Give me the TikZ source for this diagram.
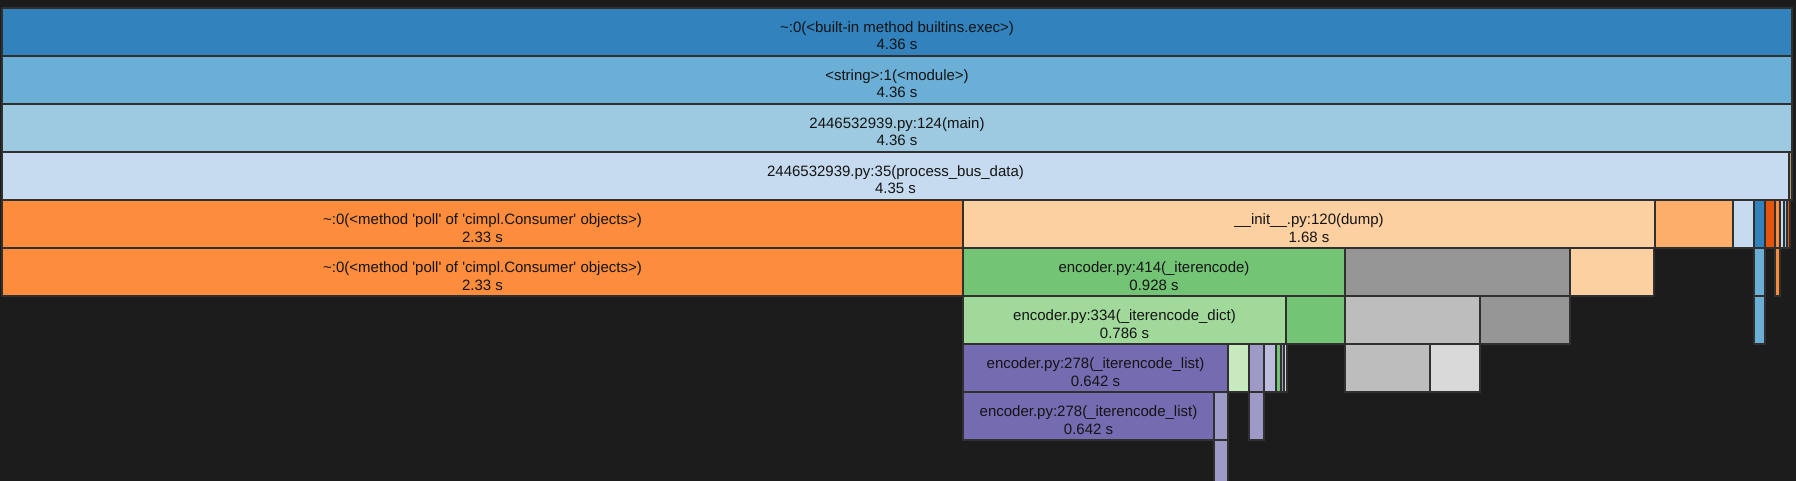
\documentclass[tikz,border=0pt]{standalone}
\usepackage{fontspec}
\setmainfont{Liberation Sans}
\usepackage{tikz}
\definecolor{bg}{HTML}{1C1C1C}
\definecolor{cellline}{HTML}{303030}
\definecolor{labeltext}{HTML}{141414}
\definecolor{blueA}{HTML}{3182BD}
\definecolor{blueB}{HTML}{6BAED6}
\definecolor{blueC}{HTML}{9ECAE1}
\definecolor{blueD}{HTML}{C6DBEF}
\definecolor{orangeA}{HTML}{E6550D}
\definecolor{orangeB}{HTML}{FD8D3C}
\definecolor{orangeC}{HTML}{FDAE6B}
\definecolor{orangeD}{HTML}{FDD0A2}
\definecolor{greenB}{HTML}{74C476}
\definecolor{greenC}{HTML}{A1D99B}
\definecolor{greenD}{HTML}{C7E9C0}
\definecolor{purpleA}{HTML}{756BB1}
\definecolor{purpleB}{HTML}{9E9AC8}
\definecolor{purpleC}{HTML}{BCBDDC}
\definecolor{grayB}{HTML}{969696}
\definecolor{grayC}{HTML}{BDBDBD}
\definecolor{grayD}{HTML}{D9D9D9}
\definecolor{tan}{HTML}{B89870}
\tikzset{cell/.style={shape=rectangle, draw=cellline, line width=1.2pt, inner sep=0pt, outer sep=0pt, anchor=north west, minimum height=48pt},
  lbl/.style={font=\fontsize{15}{18}\selectfont, text=labeltext, anchor=base, inner sep=0pt}}

\begin{document}
\begin{tikzpicture}[x=1pt, y=-1pt]
    \fill[bg] (0,0) rectangle (1796,481);
    \clip (0,0) rectangle (1796,481);

    % call stack, top down
    \node[cell, fill=blueA, minimum width=1790pt] (exec) at (2,8) {};
    \node[cell, fill=blueB, minimum width=1790pt] (module) at (2,56) {};
    \node[cell, fill=blueC, minimum width=1790pt] (main) at (2,104) {};
    \node[cell, fill=blueD, minimum width=1787pt] (busdata) at (2,152) {};
    \node[cell, fill=tan, minimum width=3pt] (busdata-s) at (1789,152) {};
    \node[cell, fill=orangeB, minimum width=961pt] (poll) at (2,200) {};
    \node[cell, fill=orangeD, minimum width=692pt] (dump) at (963,200) {};
    \node[cell, fill=orangeB, minimum width=961pt] (poll2) at (2,248) {};
    \node[cell, fill=greenB, minimum width=382pt] (iterenc) at (963,248) {};
    \node[cell, fill=greenC, minimum width=323pt] (encdict) at (963,296) {};
    \node[cell, fill=purpleA, minimum width=265pt] (enclist) at (963,344) {};
    \node[cell, fill=purpleA, minimum width=251pt] (enclist2) at (963,392) {};

    % small frames without text
    \foreach \x/\w/\c [count=\i] in {1655/78/orangeC, 1733/21/blueD, 1754/11/blueA, 1765/10/orangeA,
        1775/5/orangeB, 1780/4/blueD, 1784/3/blueC, 1787/3/orangeA}
      \node[cell, fill=\c, minimum width=\w pt] (r4-\i) at (\x,200) {};
    \foreach \x/\w/\c [count=\i] in {1345/225/grayB, 1570/84/orangeD, 1754/11/blueB, 1775/5/orangeB}
      \node[cell, fill=\c, minimum width=\w pt] (r5-\i) at (\x,248) {};
    \foreach \x/\w/\c [count=\i] in {1286/59/greenB, 1345/135/grayC, 1480/90/grayB, 1754/11/blueB}
      \node[cell, fill=\c, minimum width=\w pt] (r6-\i) at (\x,296) {};
    \foreach \x/\w/\c [count=\i] in {1228/21/greenD, 1249/15/purpleB, 1264/12/purpleC, 1276/5/greenB,
        1281/3/purpleB, 1284/3/grayD, 1345/85/grayC, 1430/50/grayD}
      \node[cell, fill=\c, minimum width=\w pt] (r7-\i) at (\x,344) {};
    \foreach \x/\w/\c [count=\i] in {1214/14/purpleB, 1249/15/purpleB}
      \node[cell, fill=\c, minimum width=\w pt] (r8-\i) at (\x,392) {};
    \node[cell, fill=purpleB, minimum width=14pt] (r9-1) at (1214,440) {};

    % labels
    \node[lbl] (exec-l) at ([yshift=-0.3pt]exec.center) {\textasciitilde:0(<built-in method builtins.exec>)};
    \node[lbl] (exec-t) at ([yshift=-18pt]exec.center) {4.36 s};
    \node[lbl] (module-l) at ([yshift=-0.3pt]module.center) {<string>:1(<module>)};
    \node[lbl] (module-t) at ([yshift=-18pt]module.center) {4.36 s};
    \node[lbl] (main-l) at ([yshift=-0.3pt]main.center) {2446532939.py:124(main)};
    \node[lbl] (main-t) at ([yshift=-18pt]main.center) {4.36 s};
    \node[lbl] (busdata-l) at ([yshift=-0.3pt]busdata.center) {2446532939.py:35(process\_bus\_data)};
    \node[lbl] (busdata-t) at ([yshift=-18pt]busdata.center) {4.35 s};
    \node[lbl] (poll-l) at ([yshift=-0.3pt]poll.center) {\textasciitilde:0(<method \textquotesingle poll\textquotesingle{} of \textquotesingle cimpl.Consumer\textquotesingle{} objects>)};
    \node[lbl] (poll-t) at ([yshift=-18pt]poll.center) {2.33 s};
    \node[lbl] (dump-l) at ([yshift=-0.3pt]dump.center) {\_\_init\_\_.py:120(dump)};
    \node[lbl] (dump-t) at ([yshift=-18pt]dump.center) {1.68 s};
    \node[lbl] (poll2-l) at ([yshift=-0.3pt]poll2.center) {\textasciitilde:0(<method \textquotesingle poll\textquotesingle{} of \textquotesingle cimpl.Consumer\textquotesingle{} objects>)};
    \node[lbl] (poll2-t) at ([yshift=-18pt]poll2.center) {2.33 s};
    \node[lbl] (iterenc-l) at ([yshift=-0.3pt]iterenc.center) {encoder.py:414(\_iterencode)};
    \node[lbl] (iterenc-t) at ([yshift=-18pt]iterenc.center) {0.928 s};
    \node[lbl] (encdict-l) at ([yshift=-0.3pt]encdict.center) {encoder.py:334(\_iterencode\_dict)};
    \node[lbl] (encdict-t) at ([yshift=-18pt]encdict.center) {0.786 s};
    \node[lbl] (enclist-l) at ([yshift=-0.3pt]enclist.center) {encoder.py:278(\_iterencode\_list)};
    \node[lbl] (enclist-t) at ([yshift=-18pt]enclist.center) {0.642 s};
    \node[lbl] (enclist2-l) at ([yshift=-0.3pt]enclist2.center) {encoder.py:278(\_iterencode\_list)};
    \node[lbl] (enclist2-t) at ([yshift=-18pt]enclist2.center) {0.642 s};
\end{tikzpicture}
\end{document}
